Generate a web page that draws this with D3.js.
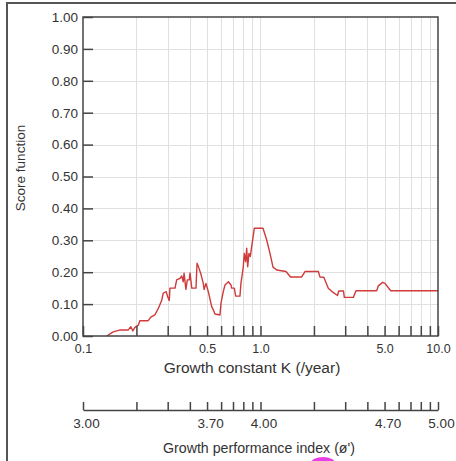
<!DOCTYPE html>
<html>
<head>
<meta charset="utf-8">
<script src="https://cdn.jsdelivr.net/npm/d3@7/dist/d3.min.js"></script>
<style>
  html, body { margin: 0; padding: 0; background: #fff; }
  svg { display: block; }
  text { font-family: "Liberation Sans", Arial, sans-serif; fill: #333; }
</style>
</head>
<body>
<svg id="chart" width="456" height="461"></svg>
<script>
// ---- data ----
const kValues = [0.136, 0.148, 0.162, 0.180, 0.186, 0.191, 0.196, 0.205, 0.209, 0.233,
  0.241, 0.254, 0.266, 0.278, 0.283, 0.294, 0.300, 0.306, 0.309, 0.330,
  0.337, 0.352, 0.360, 0.367, 0.371, 0.380, 0.387, 0.397, 0.401, 0.410,
  0.433, 0.439, 0.446, 0.460, 0.476, 0.481, 0.493, 0.508, 0.531, 0.542,
  0.554, 0.591, 0.599, 0.617, 0.631, 0.659, 0.682, 0.688, 0.712, 0.725,
  0.766, 0.776, 0.800, 0.810, 0.825, 0.836, 0.847, 0.861, 0.876, 0.892,
  0.923, 1.033, 1.084, 1.131, 1.176, 1.234, 1.392, 1.476, 1.707, 1.781,
  2.117, 2.164, 2.273, 2.41, 2.518, 2.716, 2.76, 2.935, 2.966, 3.333,
  3.451, 4.513, 4.609, 4.881, 5.028, 5.414, 10.0];
const scores = [0.000, 0.013, 0.019, 0.019, 0.029, 0.016, 0.027, 0.034, 0.048, 0.048,
  0.059, 0.066, 0.087, 0.113, 0.134, 0.139, 0.123, 0.111, 0.150, 0.150,
  0.176, 0.181, 0.188, 0.170, 0.197, 0.146, 0.176, 0.176, 0.198, 0.150,
  0.150, 0.228, 0.219, 0.197, 0.165, 0.146, 0.165, 0.139, 0.092, 0.082,
  0.069, 0.066, 0.103, 0.139, 0.160, 0.170, 0.160, 0.150, 0.150, 0.125,
  0.125, 0.165, 0.217, 0.259, 0.233, 0.275, 0.217, 0.259, 0.249, 0.280,
  0.338, 0.338, 0.301, 0.259, 0.216, 0.207, 0.202, 0.185, 0.185, 0.202,
  0.202, 0.185, 0.184, 0.150, 0.140, 0.127, 0.141, 0.141, 0.121, 0.121,
  0.142, 0.142, 0.157, 0.168, 0.165, 0.142, 0.142];

const kTicks = [0.1,0.2,0.3,0.4,0.5,0.6,0.7,0.8,0.9,1,2,3,4,5,6,7,8,9,10];
const kLabelValues = [0.1, 0.5, 1, 5, 10];
const kLabelTexts = ["0.1", "0.5", "1.0", "5.0", "10.0"];
const yTicks = [0,0.1,0.2,0.3,0.4,0.5,0.6,0.7,0.8,0.9,1.0];
const yLabelTexts = ["0.00","0.10","0.20","0.30","0.40","0.50","0.60","0.70","0.80","0.90","1.00"];
const phiOffset = 4; // phi' = log10(K) + 2*log10(Linf), Linf = 100
const phiLabelTexts = ["3.00", "3.70", "4.00", "4.70", "5.00"];

// ---- layout ----
const svg = d3.select("#chart");
const L = 83, R = 438, T = 17, B = 336;
const x = d3.scaleLog().domain([0.1, 10]).range([L, R]);
const y = d3.scaleLinear().domain([0, 1]).range([B, T]);
const phi = d3.scaleLinear().domain([3, 5]).range([L, R]);
const FONT = "Liberation Sans, Arial, sans-serif";

// outer frame (partial)
svg.append("path").attr("d", `M7,461 V3 H456`).attr("fill", "none")
  .attr("stroke", "#555").attr("stroke-width", 2);

// grid
const grid = svg.append("g").attr("stroke", "#e0e0e0").attr("stroke-width", 1);
grid.selectAll("line.v").data(kTicks.slice(1, -1)).join("line")
  .attr("x1", d => Math.round(x(d)) + 0.5).attr("x2", d => Math.round(x(d)) + 0.5)
  .attr("y1", T).attr("y2", B);
grid.selectAll("line.h").data(yTicks.slice(1, -1)).join("line")
  .attr("y1", d => Math.round(y(d)) + 0.5).attr("y2", d => Math.round(y(d)) + 0.5)
  .attr("x1", L).attr("x2", R);

// curve
const line = d3.line().x((d, i) => x(kValues[i])).y(d => y(d));
svg.append("path").datum(scores).attr("d", line).attr("fill", "none")
  .attr("stroke", "#cf3a3a").attr("stroke-width", 1.4).attr("stroke-linejoin", "round");

// K axis (bottom, inward ticks)
const xAxis = d3.axisBottom(x).tickValues(kTicks).tickSizeInner(-10).tickSizeOuter(0)
  .tickPadding(8)
  .tickFormat(d => { const i = kLabelValues.findIndex(v => Math.abs(v - d) < 1e-9); return i >= 0 ? kLabelTexts[i] : ""; });
const gx = svg.append("g").attr("transform", `translate(0,${B})`).call(xAxis);
gx.selectAll("text").attr("font-size", 12.5).attr("font-family", FONT).attr("fill", "#2a2a2a");
gx.selectAll("line").attr("stroke", "#444").attr("stroke-width", 1.5);
gx.select(".domain").remove();

// Y axis (left, inward ticks)
const yAxis = d3.axisLeft(y).tickValues(yTicks).tickSizeInner(-10).tickSizeOuter(0)
  .tickPadding(5).tickFormat((d, i) => yLabelTexts[i]);
const gy = svg.append("g").attr("transform", `translate(${L},0)`).call(yAxis);
gy.selectAll("text").attr("font-size", 13.5).attr("font-family", FONT).attr("fill", "#2a2a2a");
gy.selectAll("line").attr("stroke", "#444").attr("stroke-width", 1.5);
gy.select(".domain").remove();

// plot frame
svg.append("rect").attr("x", L).attr("y", T).attr("width", R - L).attr("height", B - T)
  .attr("fill", "none").attr("stroke", "#444").attr("stroke-width", 1.5);

// secondary phi' axis
const phiAxis = d3.axisBottom(phi).tickValues(kTicks.map(k => Math.log10(k) + phiOffset))
  .tickSizeInner(-8).tickSizeOuter(0).tickPadding(8)
  .tickFormat(d => { const i = kLabelValues.findIndex(v => Math.abs(Math.log10(v) + phiOffset - d) < 1e-9); return i >= 0 ? phiLabelTexts[i] : ""; });
const gp = svg.append("g").attr("transform", `translate(0,410)`).call(phiAxis);
gp.selectAll("text").attr("font-size", 13.5).attr("font-family", FONT).attr("fill", "#2a2a2a").attr("dx", 3);
gp.selectAll("line").attr("stroke", "#444").attr("stroke-width", 1.5);
gp.select(".domain").attr("stroke", "#444").attr("stroke-width", 1.5);

// titles
svg.append("text").attr("x", 252).attr("y", 373).attr("text-anchor", "middle")
  .attr("font-size", 15.5).attr("fill", "#2a2a2a").text("Growth constant K (/year)");
svg.append("text").attr("x", 259).attr("y", 453).attr("text-anchor", "middle")
  .attr("font-size", 14.2).attr("fill", "#2a2a2a").text("Growth performance index (ø')");
svg.append("text").attr("transform", "translate(25,168) rotate(-90)").attr("text-anchor", "middle")
  .attr("font-size", 13.5).attr("fill", "#2a2a2a").text("Score function");

// magenta marker at bottom edge
svg.append("ellipse").attr("cx", 323).attr("cy", 463).attr("rx", 12).attr("ry", 6).attr("fill", "#e83ee8");
</script>
</body>
</html>
